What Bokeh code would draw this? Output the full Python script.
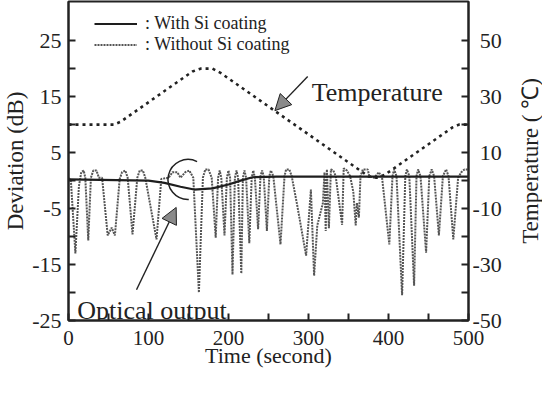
import math
from bokeh.plotting import figure
from bokeh.layouts import row
from bokeh.models import (Range1d, LinearAxis, FixedTicker, Legend, LegendItem,
                          Label, Arrow, NormalHead)
from bokeh.embed import file_html
from bokeh.resources import INLINE

# ---- data ----
# Without Si coating (gray): time (s) / deviation (dB)
t_without = [0, 3, 8.6, 13, 16, 19, 21, 24.7, 28, 31,
             35, 38, 42, 49, 54, 58, 64, 67, 71, 74,
             80, 86, 89, 93, 96, 110, 116, 125, 130, 136,
             140, 146, 151, 156, 163, 168, 171, 175, 179, 184,
             187, 189, 191, 195, 198, 200, 202, 205, 208, 210,
             212, 216, 218, 220, 222, 226, 229, 231, 233, 237,
             240, 242, 244, 248, 251, 253, 256, 265, 270, 272,
             276, 279, 286, 297, 303, 307, 311, 318, 320, 321.5,
             323, 325.5, 328, 331, 334, 342, 344, 348, 352, 356,
             359, 360.5, 363, 365, 368, 374, 376, 382, 388, 392,
             401, 405, 407, 410, 417, 421, 423, 426, 432, 435,
             437, 440, 447, 451, 454, 457, 463, 468, 472, 475,
             481, 487, 491, 495, 500]
dev_without = [0.5, 0, -13, -1, 1.5, 1.8, 0.5, -10.7, 0.5, 1.8,
               1.8, 0.5, 0.5, -9.8, -8.4, -9.8, 0.3, 1.5, 1.8, 0.5,
               -9.6, 0.5, 1.8, 1.8, 0.5, -10.5, 0.3, 0.5, 1.5, 1.5,
               0.5, 1.5, 1.8, 0.5, -20, 0.5, 2, 2, 0.5, -10.2,
               0.5, 1.8, 0.5, -9.8, 0.5, 1.8, 0.5, -16.8, 0.5, 1.8,
               0.5, -16.6, 0.5, 1.8, 0.5, -11.2, 0.5, 1.8, 0.5, -8.7,
               0.8, 1.8, 0.8, -9, 0.8, 1.8, 0.8, -11.4, 0.8, 2,
               2, 0.8, -4.5, -13.4, -1.6, -17, -8, -4, 1.5, -9,
               2, -8.5, 2, 1.8, 0.8, -7.9, 2.2, 1.8, 0.8, -2,
               -8, -4, -6.6, 0.8, 2, 2, 0.8, 0.5, 1.5, 0.5,
               -11.4, 0.8, 2, 0.8, -20.5, 0.8, 2, 0.8, -18.8, 0.8,
               2, 0.8, -12.9, 0.8, 2, 0.8, -9.8, 0.8, 2, 0.8,
               -10.5, 0.5, 1.5, 2, 2]

# With Si coating (black)
t_with = [0, 60, 100, 120, 140, 157, 180, 200, 215, 230, 260, 500]
dev_with = [0.2, 0.1, 0.0, -0.4, -1.1, -1.6, -1.4, -0.7, 0.0, 0.6, 0.7, 0.7]

# Temperature (right axis, deg C)
t_temp = [0, 57, 65, 155, 165, 180, 190, 375, 385, 395, 480, 488, 500]
temp = [20, 20, 21, 39, 40, 40, 38.5, 1.5, 1, 2, 19, 20, 20]

# ticks
x_ticks = [0, 50, 100, 150, 200, 250, 300, 350, 400, 450, 500]
x_labels = ["0", "100", "200", "300", "400", "500"]
left_ticks = [-25, -20, -15, -10, -5, 0, 5, 10, 15, 20, 25]
left_labels = ["-25", "-15", "-5", "5", "15", "25"]
right_ticks = [-50, -40, -30, -20, -10, 0, 10, 20, 30, 40, 50]
right_labels = ["-50", "-30", "-10", "\u200410", "\u200430", "\u200450"]

SERIF = "Liberation Serif"
INK = "#222222"

p = figure(width=514, height=380, x_range=Range1d(0, 500),
           y_range=Range1d(-25, 32.0), output_backend="svg",
           toolbar_location=None, min_border_left=63, min_border_right=46,
           min_border_top=1, min_border_bottom=60,
           x_axis_label="Time (second)", y_axis_label="Deviation (dB)")
p.extra_y_ranges = {"temp": Range1d(-50, 64.0)}
p.xgrid.visible = False
p.ygrid.visible = False
p.outline_line_color = INK
p.outline_line_width = 2
p.background_fill_color = "white"
p.border_fill_color = "white"

raxis = LinearAxis(y_range_name="temp")
p.add_layout(raxis, "right")


def style(ax, size, title_size="23px"):
    ax.axis_line_width = 2
    ax.axis_line_color = INK
    ax.major_tick_in = 7
    ax.major_tick_out = 0
    ax.major_tick_line_width = 2
    ax.major_tick_line_color = INK
    ax.minor_tick_line_color = None
    ax.major_label_text_font = SERIF
    ax.major_label_text_font_size = size
    ax.major_label_text_color = INK
    ax.axis_label_text_font = SERIF
    ax.axis_label_text_font_style = "normal"
    ax.axis_label_text_font_size = title_size
    ax.axis_label_text_color = INK


xa = p.xaxis[0]
style(xa, "21px", "22px")
xa.ticker = FixedTicker(ticks=x_ticks)
xa.major_label_overrides = {v: (x_labels[i // 2] if i % 2 == 0 else "")
                            for i, v in enumerate(x_ticks)}
xa.major_label_standoff = 10
xa.axis_label_standoff = -5

ya = p.yaxis[0]
style(ya, "22px")
ya.ticker = FixedTicker(ticks=left_ticks)
ya.major_label_overrides = {v: (left_labels[i // 2] if i % 2 == 0 else "")
                            for i, v in enumerate(left_ticks)}
ya.major_label_standoff = 7
ya.axis_label_standoff = 1

style(raxis, "22px")
raxis.ticker = FixedTicker(ticks=right_ticks)
raxis.major_label_overrides = {v: (right_labels[i // 2] if i % 2 == 0 else "")
                               for i, v in enumerate(right_ticks)}
raxis.major_label_standoff = 4

# series
r_temp = p.line(t_temp, temp, y_range_name="temp", line_color=INK,
                line_width=2.6, line_dash="3 4")
r_without = p.line(t_without, dev_without, line_color="#555555",
                   line_width=2.0, line_dash="2 1")
r_with = p.line(t_with, dev_with, line_color="#1e1e1e", line_width=2.2)

# circle mark around the optical-output curve
p.arc(x=[149.4], y=[0.2], radius=20, radius_units="screen",
      start_angle=1.1, end_angle=4.75, line_color=INK, line_width=1.5)

# annotations
p.add_layout(Arrow(end=NormalHead(size=16, fill_color="#8a8a8a",
                                  line_color=INK, line_width=1),
                   x_start=299, y_start=18.6, x_end=258, y_end=12.5,
                   line_color=INK, line_width=1.4))
p.add_layout(Label(x=304, y=15.7, text="Temperature", text_font=SERIF,
                   text_font_size="26px", text_color=INK,
                   text_baseline="alphabetic"))
p.add_layout(Arrow(end=NormalHead(size=16, fill_color="#8a8a8a",
                                  line_color=INK, line_width=1),
                   x_start=85, y_start=-19.5, x_end=134.6, y_end=-4.8,
                   line_color=INK, line_width=1.4))
p.add_layout(Label(x=11, y=-23.2, text="Optical output", text_font=SERIF,
                   text_font_size="26px", text_color=INK,
                   text_baseline="alphabetic"))

legend = Legend(items=[LegendItem(label=": With Si coating", renderers=[r_with]),
                       LegendItem(label=": Without Si coating", renderers=[r_without])],
                location=(26, 265), padding=0, spacing=0, margin=0,
                glyph_width=43, glyph_height=21, label_height=21,
                label_standoff=8, label_text_font=SERIF,
                label_text_font_size="18px", label_text_color=INK,
                border_line_alpha=0, background_fill_alpha=0)
p.add_layout(legend)

# narrow strip whose (empty) axis carries the right-hand title, reading upward
p2 = figure(width=28, height=380, x_range=Range1d(0, 1), y_range=Range1d(0, 1),
            output_backend="svg", toolbar_location=None,
            x_axis_type=None, y_axis_type=None,
            min_border_left=0, min_border_right=0, min_border_top=1,
            min_border_bottom=51)
p2.outline_line_color = None
p2.xgrid.visible = False
p2.ygrid.visible = False
tax = LinearAxis(axis_label="Temperature ( \u2103)", ticker=FixedTicker(ticks=[]))
tax.axis_line_color = None
tax.major_tick_line_color = None
tax.minor_tick_line_color = None
tax.major_tick_in = 0
tax.major_tick_out = 0
tax.major_label_standoff = 0
tax.axis_label_standoff = 0
tax.axis_label_text_font = SERIF
tax.axis_label_text_font_style = "normal"
tax.axis_label_text_font_size = "23px"
tax.axis_label_text_color = INK
p2.add_layout(tax, "left")

layout = row(p, p2, spacing=0)
open("out.html", "w").write(file_html(layout, INLINE))
